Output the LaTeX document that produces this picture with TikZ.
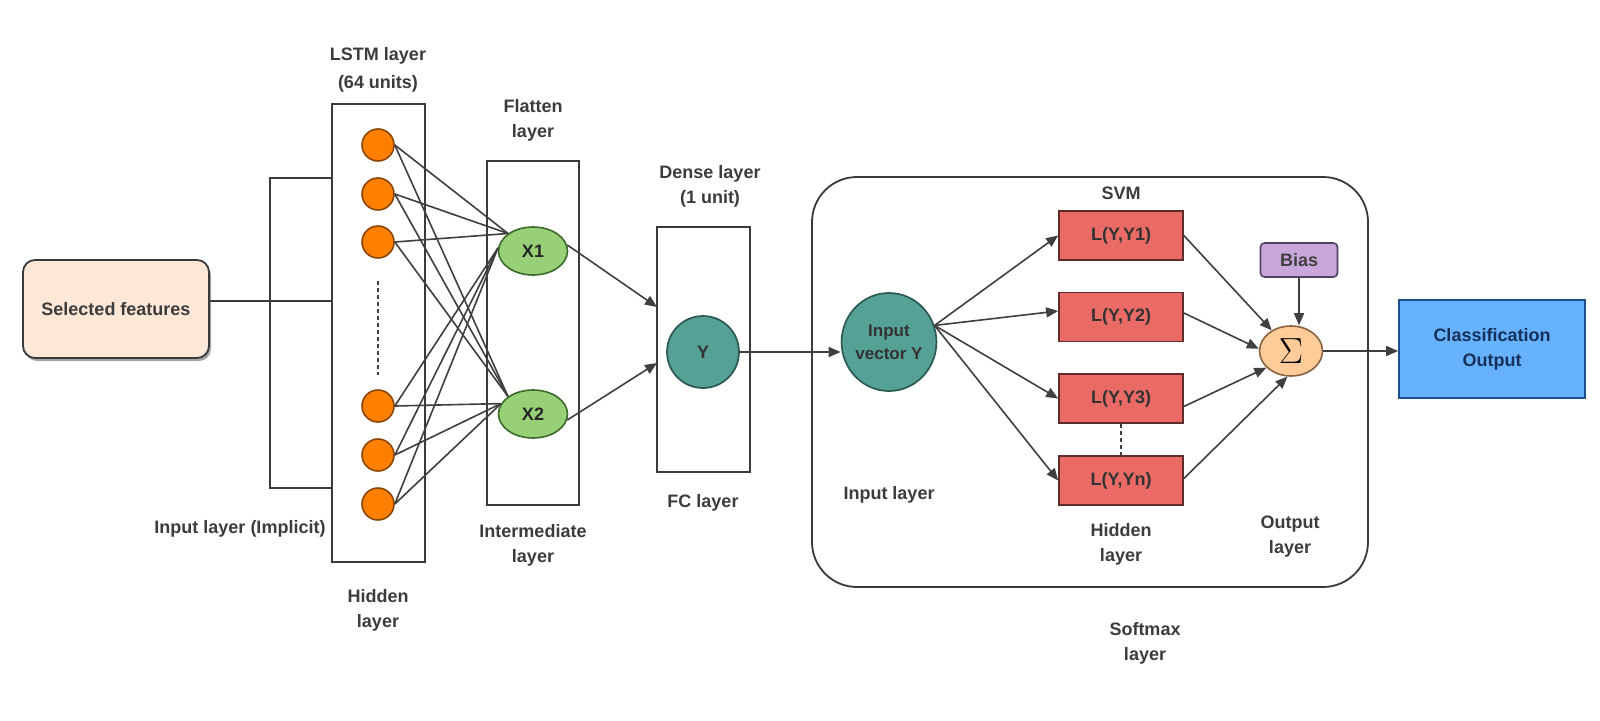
\documentclass[tikz,border=0pt]{standalone}
\usepackage[no-math]{fontspec}
\usepackage{graphicx}
\setmainfont{Liberation Sans}
\usetikzlibrary{shapes.geometric,arrows.meta,shadows}
\definecolor{sffill}{HTML}{FDE8D8}
\definecolor{orfill}{HTML}{FF8000}
\definecolor{ordraw}{HTML}{8C4600}
\definecolor{grfill}{HTML}{97D077}
\definecolor{grdraw}{HTML}{3D6B2A}
\definecolor{tlfill}{HTML}{55A195}
\definecolor{tldraw}{HTML}{2B5A53}
\definecolor{rdfill}{HTML}{EA6B66}
\definecolor{rddraw}{HTML}{5E2C2A}
\definecolor{sgfill}{HTML}{FFCC99}
\definecolor{sgdraw}{HTML}{8A6440}
\definecolor{bsfill}{HTML}{C9A7DB}
\definecolor{bsdraw}{HTML}{4F4560}
\definecolor{clfill}{HTML}{66B2FF}
\definecolor{cldraw}{HTML}{1F4E8C}
\definecolor{cltext}{HTML}{16305A}
\definecolor{linegray}{HTML}{3A3A3A}
\definecolor{conngray}{HTML}{3F3F3F}
\definecolor{labelgray}{HTML}{3C3C3C}
\begin{document}
\begin{tikzpicture}[x=1pt,y=-1pt,
  font=\fontsize{18}{25}\selectfont\bfseries,
  boxline/.style={line width=1.8pt, draw=linegray},
  conn/.style={line width=1.6pt, draw=conngray},
  arr/.style={conn, -{Triangle[length=12pt,width=10pt]}},
  lbl/.style={text=labelgray, align=center, inner sep=0pt},
  layerbox/.style={rectangle, boxline, inner sep=0pt},
  sfbox/.style={rectangle, rounded corners=12pt, minimum width=186pt, minimum height=98pt,
    fill=sffill, boxline, text=labelgray,
    drop shadow={shadow xshift=2pt, shadow yshift=-3pt, fill=black, opacity=0.35}},
  unit/.style={circle, minimum size=32pt, inner sep=0pt, fill=orfill, draw=ordraw, line width=1.6pt},
  flatnode/.style={ellipse, minimum width=69pt, minimum height=48pt, inner sep=0pt,
    fill=grfill, draw=grdraw, line width=1.6pt, text=black!85},
  tealnode/.style={ellipse, inner sep=0pt, fill=tlfill, draw=tldraw, line width=1.7pt, text=black!80, align=center},
  lossbox/.style={rectangle, minimum width=124pt, minimum height=49pt, inner sep=0pt,
    fill=rdfill, draw=rddraw, line width=1.7pt, text=black!80},
  sumnode/.style={ellipse, minimum width=63pt, minimum height=50pt, inner sep=0pt,
    fill=sgfill, draw=sgdraw, line width=1.6pt},
  biasbox/.style={rectangle, rounded corners=4pt, minimum width=77pt, minimum height=34pt, inner sep=0pt,
    fill=bsfill, draw=bsdraw, line width=1.6pt, text=black!75},
  outbox/.style={rectangle, minimum width=186pt, minimum height=98pt, inner sep=0pt,
    fill=clfill, draw=cldraw, line width=1.7pt, text=cltext, align=center},
  svmframe/.style={rectangle, rounded corners=45pt, boxline, inner sep=0pt}
]
\useasboundingbox (0,0) rectangle (1600,720);
\fill[white] (0,0) rectangle (1600,720);

% input
\node[sfbox] (sf) at (116,309) {Selected features};

% layer boxes
\node[layerbox, minimum width=93pt, minimum height=458pt] (lstm) at (378.5,333) {};
\node[layerbox, minimum width=92pt, minimum height=344pt] (flat) at (533,333) {};
\node[layerbox, minimum width=93pt, minimum height=245pt] (dense) at (703.5,349.5) {};
\node[svmframe, minimum width=556pt, minimum height=410pt] (svm) at (1090,382) {};

% implicit input bracket
\coordinate (brt) at (270,178);
\coordinate (brb) at (270,488);
\draw[boxline] (lstm.west |- brt) -- (brt) -- (brb) -- (lstm.west |- brb);
\draw[boxline] ([yshift=8pt]sf.east) -- ([yshift=8pt]sf.east -| lstm.west);

% LSTM units
\node[unit] (o1) at (378,145) {};
\node[unit] (o2) at (378,194) {};
\node[unit] (o3) at (378,242) {};
\node[unit] (o4) at (378,406) {};
\node[unit] (o5) at (378,455) {};
\node[unit] (o6) at (378,504) {};
\coordinate (dt) at (378,281);
\coordinate (db) at (378,375);
\draw[conn, dash pattern=on 4pt off 3pt] (dt) -- (db);

% flatten nodes
\node[flatnode] (x1) at (533,251) {X1};
\node[flatnode] (x2) at (533,414) {X2};

\foreach \o in {o1,o2,o3}{
  \draw[conn] (\o.east) -- (x1.145);
  \draw[conn] (\o.east) -- (x2.145);
}
\foreach \o in {o4,o5,o6}{
  \draw[conn] (\o.east) -- (x1.175);
  \draw[conn] (\o.east) -- (x2.162);
}

% dense
\node[tealnode, minimum size=72pt] (yy) at (703,352) {Y};
\coordinate (d1) at (657,307);
\coordinate (d2) at (657,363);
\draw[arr] (x1.10) -- (d1);
\draw[arr] (x2.-10) -- (d2);

% SVM part
\node[tealnode, minimum width=94pt, minimum height=98pt, font=\fontsize{17}{23}\selectfont\bfseries] (iv) at (889,342) {Input\\vector Y};
\draw[arr] (yy.east) -- (yy.east -| iv.west);

\node[lossbox] (l1) at (1121,235.5) {L(Y,Y1)};
\node[lossbox] (l2) at (1121,317) {L(Y,Y2)};
\node[lossbox] (l3) at (1121,398.5) {L(Y,Y3)};
\node[lossbox] (ln) at (1121,480.5) {L(Y,Yn)};
\draw[conn, dash pattern=on 4pt off 3pt] (l3.south) -- (ln.north);

\draw[arr] (iv.20) -- (l1.west);
\draw[arr] (iv.20) -- ([yshift=6pt]l2.west);
\draw[arr] (iv.20) -- (l3.west);
\draw[arr] (iv.20) -- (ln.west);

\node[sumnode] (sig) at (1291,351) {\fontsize{18}{18}\selectfont\scalebox{2.1}{$\Sigma$}};
\node[biasbox] (bias) at (1299,260) {Bias};
\draw[arr] (bias.south) -- (bias.south |- sig.north);

\draw[arr] (l1.east) -- (sig.133);
\draw[arr] ([yshift=4pt]l2.east) -- (sig.176);
\draw[arr] ([yshift=-8pt]l3.east) -- (sig.214);
\draw[arr] ([yshift=2pt]ln.east) -- (sig.262);

\node[outbox] (cls) at (1492,349) {Classification\\Output};
\draw[arr] (sig.east) -- (sig.east -| cls.west);

% labels
\node[lbl] (t1) at (378,70) {LSTM layer\\[3pt](64 units)};
\node[lbl] (t2) at (533,120) {Flatten\\layer};
\node[lbl] (t3) at (710,186) {Dense layer\\(1 unit)};
\node[lbl] (t4) at (703,503) {FC layer};
\node[lbl] (t5) at (533,545) {Intermediate\\layer};
\node[lbl] (t6) at (378,610) {Hidden\\layer};
\node[lbl] (t7) at (240,529) {Input layer (Implicit)};
\node[lbl] (t8) at (1121,193) {SVM};
\node[lbl] (t9) at (889,495) {Input layer};
\node[lbl] (t10) at (1121,544) {Hidden\\layer};
\node[lbl] (t11) at (1290,537) {Output\\layer};
\node[lbl] (t12) at (1145,643) {Softmax\\layer};
\end{tikzpicture}
\end{document}
